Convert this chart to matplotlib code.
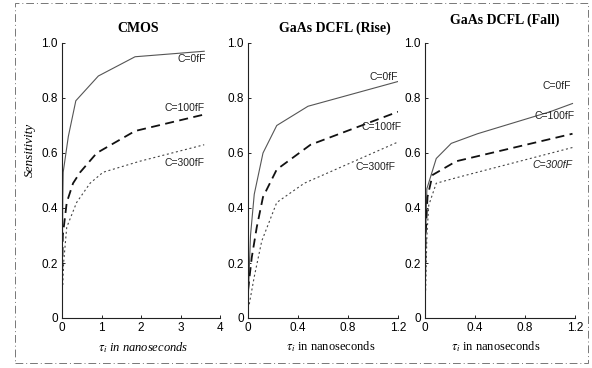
import matplotlib
matplotlib.use('Agg')
import matplotlib.pyplot as plt
from matplotlib.patches import Rectangle

plt.rcParams['mathtext.fontset'] = 'stix'

# CMOS panel (tau in ns, sensitivity)
cmos_t_0 = [0, 0.02, 0.03, 0.16, 0.35, 0.92, 1.85, 3.6]
cmos_s_0 = [0.06, 0.44, 0.53, 0.66, 0.79, 0.88, 0.95, 0.97]
cmos_t_100 = [0, 0.02, 0.12, 0.28, 0.46, 0.88, 1.85, 3.6]
cmos_s_100 = [0.12, 0.3, 0.42, 0.49, 0.53, 0.6, 0.68, 0.74]
cmos_t_300 = [0.02, 0.04, 0.12, 0.37, 0.71, 1.04, 1.97, 3.6]
cmos_s_300 = [0.12, 0.2, 0.33, 0.42, 0.49, 0.53, 0.57, 0.63]

# GaAs DCFL rise
rise_t_0 = [0, 0.02, 0.05, 0.12, 0.23, 0.48, 1.2]
rise_s_0 = [0.05, 0.3, 0.45, 0.6, 0.7, 0.77, 0.86]
rise_t_100 = [0, 0.03, 0.07, 0.12, 0.23, 0.5, 1.2]
rise_s_100 = [0.1, 0.22, 0.33, 0.44, 0.54, 0.63, 0.75]
rise_t_300 = [0.01, 0.05, 0.11, 0.23, 0.45, 1.2]
rise_s_300 = [0.05, 0.15, 0.28, 0.42, 0.49, 0.64]

# GaAs DCFL fall
fall_t_0 = [0, 0.005, 0.015, 0.09, 0.21, 0.42, 1.0, 1.18]
fall_s_0 = [0.08, 0.3, 0.47, 0.58, 0.635, 0.67, 0.75, 0.78]
fall_t_100 = [0, 0.005, 0.02, 0.06, 0.25, 1.18]
fall_s_100 = [0.1, 0.3, 0.44, 0.52, 0.57, 0.67]
fall_t_300 = [0.005, 0.015, 0.03, 0.09, 0.25, 1.18]
fall_s_300 = [0.1, 0.3, 0.41, 0.49, 0.51, 0.62]

y_ticks = [0, 0.2, 0.4, 0.6, 0.8, 1.0]
y_tick_labels = ['0', '0.2', '0.4', '0.6', '0.8', '1.0']
cmos_x_ticks = [0, 1, 2, 3, 4]
gaas_x_ticks = [0, 0.4, 0.8, 1.2]

SANS = 'Liberation Sans'
SERIF = 'Liberation Serif'


def draw_panel(ax, curves, xmax, xticks, xticklabels):
  # thin solid, heavy dashed, fine dotted
  styles = [dict(color='#555555', lw=0.8, ls='-'),
            dict(color='#111111', lw=1.3, dashes=(5, 3)),
            dict(color='#444444', lw=0.8, dashes=(1.8, 2.4))]
  for (t, s), st in zip(curves, styles):
    ax.plot(t, s, **st)
  ax.set_xlim(0, xmax)
  ax.set_ylim(0, 1.0)
  ax.set_xticks(xticks)
  ax.set_xticklabels(xticklabels, fontfamily=SANS, fontsize=8.5)
  ax.set_yticks(y_ticks)
  ax.set_yticklabels(y_tick_labels, fontfamily=SANS, fontsize=8.5)
  ax.tick_params(direction='in', length=2.5, width=0.6, pad=3)
  for side in ['top', 'right']:
    ax.spines[side].set_visible(False)
  for side in ['left', 'bottom']:
    ax.spines[side].set_linewidth(0.8)
    ax.spines[side].set_color('#222222')


fig = plt.figure(figsize=(5.92, 3.68), dpi=100)

bottom = 1 - 318 / 368
height = (318 - 43) / 368
ax1 = fig.add_axes([62 / 592, bottom, 158 / 592, height])
ax2 = fig.add_axes([248 / 592, bottom, 150 / 592, height])
ax3 = fig.add_axes([425 / 592, bottom, 150 / 592, height])

draw_panel(ax1, [(cmos_t_0, cmos_s_0), (cmos_t_100, cmos_s_100), (cmos_t_300, cmos_s_300)],
           4, cmos_x_ticks, ['0', '1', '2', '3', '4'])
draw_panel(ax2, [(rise_t_0, rise_s_0), (rise_t_100, rise_s_100), (rise_t_300, rise_s_300)],
           1.2, gaas_x_ticks, ['0', '0.4', '0.8', '1.2'])
draw_panel(ax3, [(fall_t_0, fall_s_0), (fall_t_100, fall_s_100), (fall_t_300, fall_s_300)],
           1.2, gaas_x_ticks, ['0', '0.4', '0.8', '1.2'])

lab = dict(fontfamily=SANS, fontsize=7.5, ha='right', va='center', color='#222222',
           clip_on=False)
ax1.text(3.65, 0.94, 'C=0fF', **lab)
ax1.text(3.62, 0.765, 'C=100fF', **lab)
ax1.text(3.62, 0.565, 'C=300fF', **lab)
ax2.text(1.2, 0.875, 'C=0fF', **lab)
ax2.text(1.23, 0.695, 'C=100fF', **lab)
ax2.text(1.18, 0.55, 'C=300fF', **lab)
ax3.text(1.17, 0.845, 'C=0fF', **lab)
ax3.text(1.2, 0.735, 'C=100fF', **lab)
ax3.text(1.18, 0.555, 'C=300fF', style='italic', **lab)

# panel titles
fig.text(138 / 592, 1 - 29 / 368, 'CMOS', fontfamily=SERIF, fontweight='bold',
         fontsize=10, ha='center', va='center')
fig.text(335 / 592, 1 - 28 / 368, 'GaAs DCFL (Rise)', fontfamily=SERIF, fontweight='bold',
         fontsize=10, ha='center', va='center')
fig.text(505 / 592, 1 - 20 / 368, 'GaAs DCFL (Fall)', fontfamily=SERIF, fontweight='bold',
         fontsize=10, ha='center', va='center')

# axis labels
fig.text(30 / 592, 1 - 150 / 368, 'Sensitivity', fontfamily=SERIF, style='italic',
         fontsize=9.5, rotation=90, ha='center', va='center')
fig.text(143 / 592, 1 - 348 / 368, r'$\tau_i$ in nanoseconds', fontfamily=SERIF,
         style='italic', fontsize=9, ha='center', va='center')
fig.text(331 / 592, 1 - 347 / 368, r'$\tau_i$ in nanoseconds', fontfamily=SERIF,
         fontsize=9, ha='center', va='center')
fig.text(496 / 592, 1 - 347 / 368, r'$\tau_i$ in nanoseconds', fontfamily=SERIF,
         fontsize=9, ha='center', va='center')

# scanned frame around the figure
fig.patches.append(Rectangle((15 / 592, 5 / 368), 573 / 592, 360 / 368,
                             transform=fig.transFigure, fill=False,
                             ls=(0, (8, 3, 1, 3)), lw=0.7, ec='#777777'))

fig.savefig('out.png', dpi=100)
